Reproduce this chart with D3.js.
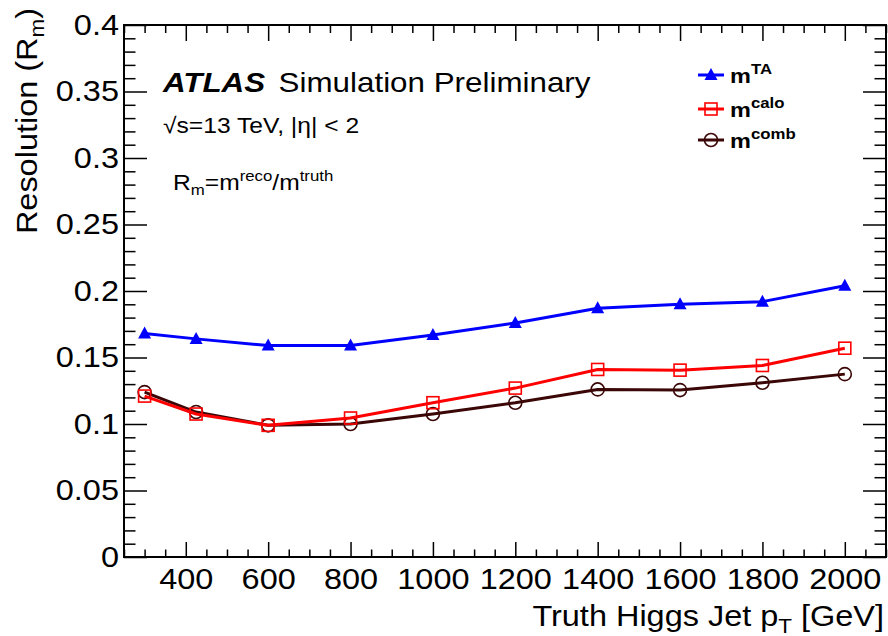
<!DOCTYPE html>
<html>
<head>
<meta charset="utf-8">
<script src="https://cdn.jsdelivr.net/npm/d3@7"></script>
<style>
	body { margin: 0; background: #fff; }
	svg text { font-family: 'Liberation Sans', Arial, Helvetica, sans-serif; fill: #000; }
</style>
</head>
<body>
<div class="graphic"></div>
<script>
// truth Higgs jet pT bin centres (GeV)
var ptBins = [300, 425, 600, 800, 1000, 1200, 1400, 1600, 1800, 2000];
// resolution of R_m for each mass definition
var resTA   = [0.168, 0.164, 0.159, 0.159, 0.167, 0.176, 0.187, 0.190, 0.192, 0.204];
var resCalo = [0.121, 0.1075, 0.099, 0.1045, 0.116, 0.127, 0.141, 0.1405, 0.144, 0.157];
var resComb = [0.124, 0.109, 0.099, 0.100, 0.1075, 0.116, 0.126, 0.1255, 0.131, 0.1375];

var xTicks = [400, 600, 800, 1000, 1200, 1400, 1600, 1800, 2000];
var yTicks = [0, 0.05, 0.1, 0.15, 0.2, 0.25, 0.3, 0.35, 0.4];
var yTickLabels = ['0', '0.05', '0.1', '0.15', '0.2', '0.25', '0.3', '0.35', '0.4'];

var width = 888, height = 636;
var frame = { left: 124, right: 886, top: 25, bottom: 557 };
var stretch = 1.12; // the original fonts are a bit wider than Liberation Sans

var svg = d3.select('.graphic').append('svg').attr('width', width).attr('height', height);

var x = d3.scaleLinear().domain([250, 2100]).range([frame.left, frame.right]);
var y = d3.scaleLinear().domain([0, 0.4]).range([frame.bottom, frame.top]);

// minor ticks every 50 GeV and every 0.01
var xMinor = d3.range(250, 2101, 50).filter(function (d) { return d % 200 !== 0; });
var yMinor = d3.range(0, 41).map(function (i) { return i / 100; }).filter(function (d, i) { return i % 5 !== 0; });

function tidy(g) {
	g.select('.domain').remove();
	g.selectAll('.tick line').attr('stroke', '#000').attr('stroke-width', 1.5);
}

function labelStyle(sel) {
	sel.attr('font-size', 29).attr('fill', '#000')
		.style('font-family', "'Liberation Sans', Arial, sans-serif")
		.attr('transform', 'scale(' + stretch + ',1)');
}

// bottom axis
svg.append('g').attr('transform', 'translate(0,' + frame.bottom + ')')
	.call(d3.axisBottom(x).tickValues(xTicks).tickSize(-15).tickPadding(11).tickFormat(d3.format('d')))
	.call(tidy)
	.selectAll('text').call(labelStyle);
svg.append('g').attr('transform', 'translate(0,' + frame.bottom + ')')
	.call(d3.axisBottom(x).tickValues(xMinor).tickSize(-7.5).tickFormat(''))
	.call(tidy);

// top axis (mirrored ticks)
svg.append('g').attr('transform', 'translate(0,' + frame.top + ')')
	.call(d3.axisTop(x).tickValues(xTicks).tickSize(-16).tickFormat(''))
	.call(tidy);
svg.append('g').attr('transform', 'translate(0,' + frame.top + ')')
	.call(d3.axisTop(x).tickValues(xMinor).tickSize(-8).tickFormat(''))
	.call(tidy);

// left axis
svg.append('g').attr('transform', 'translate(' + frame.left + ',0)')
	.call(d3.axisLeft(y).tickValues(yTicks).tickSize(-23).tickPadding(4.5)
		.tickFormat(function (d, i) { return yTickLabels[i]; }))
	.call(tidy)
	.selectAll('text').call(labelStyle);
svg.append('g').attr('transform', 'translate(' + frame.left + ',0)')
	.call(d3.axisLeft(y).tickValues(yMinor).tickSize(-11.5).tickFormat(''))
	.call(tidy);

// right axis (mirrored ticks)
svg.append('g').attr('transform', 'translate(' + frame.right + ',0)')
	.call(d3.axisRight(y).tickValues(yTicks).tickSize(-23).tickFormat(''))
	.call(tidy);
svg.append('g').attr('transform', 'translate(' + frame.right + ',0)')
	.call(d3.axisRight(y).tickValues(yMinor).tickSize(-11.5).tickFormat(''))
	.call(tidy);

// frame
svg.append('rect')
	.attr('x', frame.left).attr('y', frame.top)
	.attr('width', frame.right - frame.left).attr('height', frame.bottom - frame.top)
	.attr('fill', 'none').attr('stroke', '#000').attr('stroke-width', 2);

// series
var series = [
	{ name: 'TA', values: resTA, color: '#0000ff', marker: 'triangle' },
	{ name: 'calo', values: resCalo, color: '#ff0000', marker: 'square' },
	{ name: 'comb', values: resComb, color: '#3a0606', marker: 'circle' }
];

function drawMarker(g, type, color) {
	if (type === 'triangle') {
		g.append('path').attr('d', 'M0,-7L6.5,5L-6.5,5Z').attr('fill', color);
	} else if (type === 'square') {
		g.append('rect').attr('x', -6).attr('y', -6).attr('width', 12).attr('height', 12)
			.attr('fill', 'none').attr('stroke', color).attr('stroke-width', 1.6);
	} else {
		g.append('circle').attr('r', 6.5)
			.attr('fill', 'none').attr('stroke', color).attr('stroke-width', 1.6);
	}
}

var line = d3.line()
	.x(function (d, i) { return x(ptBins[i]); })
	.y(function (d) { return y(d); });

// draw comb first, then calo, then TA
[series[2], series[1], series[0]].forEach(function (s) {
	svg.append('path').datum(s.values)
		.attr('d', line)
		.attr('fill', 'none').attr('stroke', s.color).attr('stroke-width', 3)
		.attr('stroke-linejoin', 'round');
	s.values.forEach(function (v, i) {
		var g = svg.append('g').attr('transform', 'translate(' + x(ptBins[i]) + ',' + y(v) + ')');
		drawMarker(g, s.marker, s.color);
	});
});

// text placed at (px, py) and stretched horizontally
function stretchedText(px, py, size) {
	return svg.append('text')
		.attr('transform', 'translate(' + px + ',' + py + ') scale(' + stretch + ',1)')
		.attr('font-size', size);
}

// legend
var legendRows = [75, 109, 140];
series.forEach(function (s, i) {
	var row = svg.append('g').attr('transform', 'translate(711,' + legendRows[i] + ')');
	row.append('line').attr('x1', -13).attr('x2', 13).attr('stroke', s.color).attr('stroke-width', 3);
	drawMarker(row, s.marker, s.color);
	var t = stretchedText(730, legendRows[i] + 8, 21).attr('font-weight', 'bold');
	t.append('tspan').text('m');
	t.append('tspan').attr('dy', -9).attr('font-size', 15).text(s.name);
});

// labels
var atlas = stretchedText(163, 92, 28);
atlas.append('tspan').attr('font-weight', 'bold').attr('font-style', 'italic').text('ATLAS');
atlas.append('tspan').attr('dx', 12).text('Simulation Preliminary');

stretchedText(163, 133, 22).text('\u221As=13 TeV, |\u03B7| < 2');

var rm = stretchedText(173, 190, 22);
rm.append('tspan').text('R');
rm.append('tspan').attr('dy', 5).attr('font-size', 15).text('m');
rm.append('tspan').attr('dy', -5).text('=m');
rm.append('tspan').attr('dy', -9).attr('font-size', 15).text('reco');
rm.append('tspan').attr('dy', 9).text('/m');
rm.append('tspan').attr('dy', -9).attr('font-size', 15).text('truth');

// axis titles
var xt = stretchedText(884, 626, 29).attr('text-anchor', 'end');
xt.append('tspan').text('Truth Higgs Jet p');
xt.append('tspan').attr('dy', 7).attr('font-size', 20).text('T');
xt.append('tspan').attr('dy', -7).text(' [GeV]');

var yt = svg.append('text')
	.attr('transform', 'translate(37,8) rotate(-90) scale(' + stretch + ',1)')
	.attr('font-size', 29).attr('text-anchor', 'end');
yt.append('tspan').text('Resolution (R');
yt.append('tspan').attr('dy', 7).attr('font-size', 20).text('m');
yt.append('tspan').attr('dy', -7).text(')');
</script>
</body>
</html>
